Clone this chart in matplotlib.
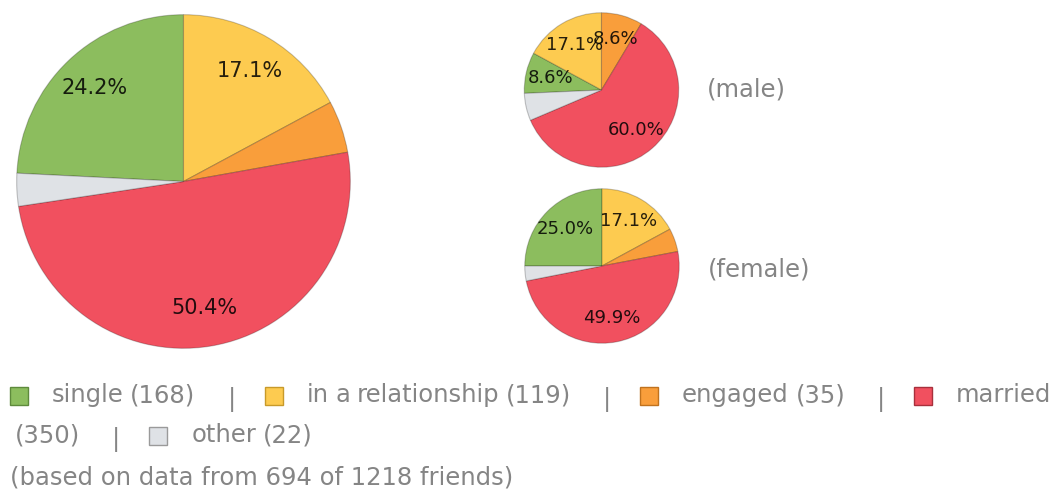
import matplotlib
matplotlib.use("Agg")
import matplotlib.pyplot as plt
from matplotlib.patches import Rectangle

# ---- data -------------------------------------------------------------
categories = ["single", "in a relationship", "engaged", "married", "other"]
counts_all = [168, 119, 35, 350, 22]
pct_male = [8.6, 17.1, 8.6, 60.0, 5.7]
pct_female = [25.0, 17.1, 4.9, 49.9, 3.1]
total_friends = 1218

colors = ["#8cbd5e", "#fdcb50", "#f99e3b", "#f1505f", "#dfe2e6"]
edge_colors = ["#5e8a3c", "#c89a2a", "#c0721e", "#a8303c", "#9a9a9a"]

W, H = 1063, 495
GRAY = "#858585"
FONT = "DejaVu Sans"

fig = plt.figure(figsize=(W / 100, H / 100), dpi=100)
fig.patch.set_facecolor("white")


def px_axes(x, y, w, h):
    """Axes placed by pixel box (top-left origin)."""
    return fig.add_axes([x / W, 1 - (y + h) / H, w / W, h / H])


def draw_pie(ax, values, label_size, label_dist, top_index=0):
    """Wedges run clockwise in legend order; the wedge `top_index`
    ends at twelve o'clock."""
    total = sum(values)
    start = 90 + 360.0 * sum(values[:top_index + 1]) / total

    def fmt(p):
        return f"{p:.1f}%" if p >= 7 else ""

    ax.pie(values, colors=colors, startangle=start, counterclock=False,
           radius=1.0, autopct=fmt, pctdistance=label_dist,
           wedgeprops=dict(edgecolor=(0, 0, 0, 0.22), linewidth=0.8),
           textprops=dict(fontsize=label_size, color="black", alpha=0.85,
                          family=FONT))
    ax.set_xlim(-1.01, 1.01)
    ax.set_ylim(-1.01, 1.01)
    ax.set_aspect("equal")
    ax.axis("off")


# overall pie
ax_all = px_axes(15, 13, 337, 337)
draw_pie(ax_all, counts_all, 15, 0.77)

# male / female pies
ax_m = px_axes(523.5, 12, 156, 156)
draw_pie(ax_m, pct_male, 13, 0.68, top_index=1)
ax_f = px_axes(524, 188, 156, 156)
draw_pie(ax_f, pct_female, 13, 0.68)

# overlay in pixel coordinates for text and legend
ov = fig.add_axes([0, 0, 1, 1], zorder=-1)
ov.set_xlim(0, W)
ov.set_ylim(H, 0)
ov.axis("off")

TXT = dict(fontsize=17.5, color=GRAY, family=FONT)
ov.text(707, 90, "(male)", va="center", ha="left", **TXT)
ov.text(708, 269, "(female)", va="center", ha="left", **TXT)

renderer = fig.canvas.get_renderer()


def text_width(s):
    t = ov.text(0, 0, s, **TXT)
    w = t.get_window_extent(renderer).width
    t.remove()
    return w


# legend laid out as a wrapping line of items
x0, right = 10, W
baselines = [402, 442]
line = 0
x = x0
space = (text_width("a b") - text_width("ab")) * 0.85
sq, sq_gap = 18, 24

for i, (name, n) in enumerate(zip(categories, counts_all)):
    if i > 0:
        x += 36
        ov.text(x, baselines[line] + 4, "|", ha="center", va="baseline",
                **TXT)
        x += 33
    ov.add_patch(Rectangle((x, baselines[line] - 15), sq, sq,
                           facecolor=colors[i], edgecolor=edge_colors[i],
                           linewidth=1.0))
    x += sq + sq_gap
    words = f"{name} ({n})".split(" ")
    for j, word in enumerate(words):
        w = text_width(word)
        if x + w > right:
            line += 1
            x = x0 + 5
        ov.text(x, baselines[line], word, ha="left", va="baseline", **TXT)
        x += w + (space if j < len(words) - 1 else 0)

ov.text(10, 484,
        f"(based on data from {sum(counts_all)} of {total_friends} friends)",
        ha="left", va="baseline", **TXT)

fig.savefig("out.png", dpi=100)
